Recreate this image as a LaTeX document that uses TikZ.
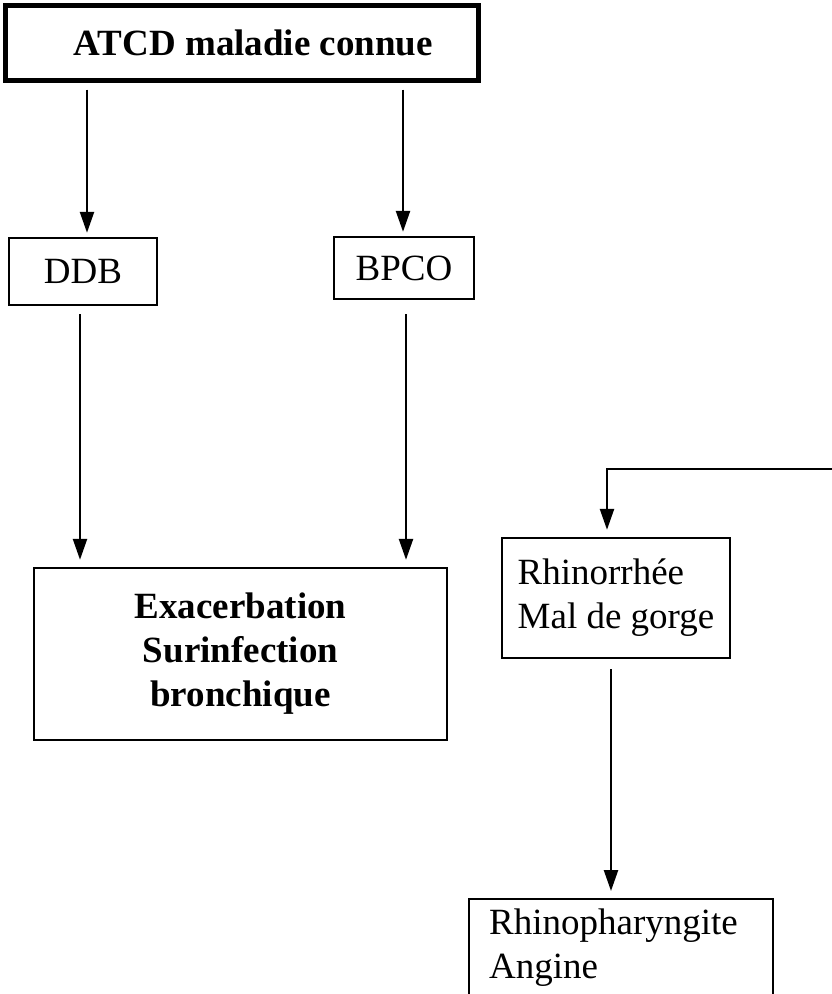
\documentclass[tikz,border=0pt]{standalone}
\usepackage{fontspec}
\setmainfont{Liberation Serif}
\usetikzlibrary{arrows.meta}
\begin{document}
\begin{tikzpicture}[x=1pt,y=-1pt,
  box/.style={draw, line width=2.4pt, inner sep=0pt, font=\fontsize{37}{44}\selectfont},
  arr/.style={line width=2.4pt, -{Triangle[length=21pt,width=14pt]}}]
\useasboundingbox (0,0) rectangle (831,994);
\node[box, line width=5pt, minimum width=473pt, minimum height=75pt, font=\fontsize{37}{44}\selectfont\bfseries] (top) at (241.5,42.5) {\hspace*{24pt}ATCD maladie connue};
\node[box, minimum width=148pt, minimum height=67pt] (ddb) at (83,271.5) {DDB};
\node[box, minimum width=140pt, minimum height=62pt] (bpco) at (404,268) {BPCO};
\node[box, minimum width=413pt, minimum height=172pt, align=center, font=\fontsize{37}{44}\selectfont\bfseries] (exa) at (240.5,654) {Exacerbation\\Surinfection\\bronchique};
\node[box, minimum width=228pt, minimum height=120pt, align=left] (rhi) at (616,598) {Rhinorrhée\\Mal de gorge};
\node[box, anchor=north west, inner xsep=20pt, inner ysep=10pt] (rp) at (468,898) {\parbox[t][120pt][t]{264pt}{\raggedright Rhinopharyngite\\Angine}};
\coordinate (c1) at (87,0);
\coordinate (c2) at (403,0);
\coordinate (c3) at (80,0);
\coordinate (c4) at (406,0);
\coordinate (c5) at (611,0);
\coordinate (c6) at (607,0);
\coordinate (ext) at (840,469);
\draw[arr, shorten <=7pt, shorten >=4pt] (top.south -| c1) -- (ddb.north -| c1);
\draw[arr, shorten <=7pt, shorten >=4pt] (top.south -| c2) -- (bpco.north -| c2);
\draw[arr, shorten <=8pt, shorten >=7pt] (ddb.south -| c3) -- (exa.north -| c3);
\draw[arr, shorten <=14pt, shorten >=7pt] (bpco.south -| c4) -- (exa.north -| c4);
\draw[arr, shorten >=7pt] (ext) -- (ext -| c6) -- (rhi.north -| c6);
\draw[arr, shorten <=10pt, shorten >=7pt] (rhi.south -| c5) -- (rp.north -| c5);
\end{tikzpicture}
\end{document}
